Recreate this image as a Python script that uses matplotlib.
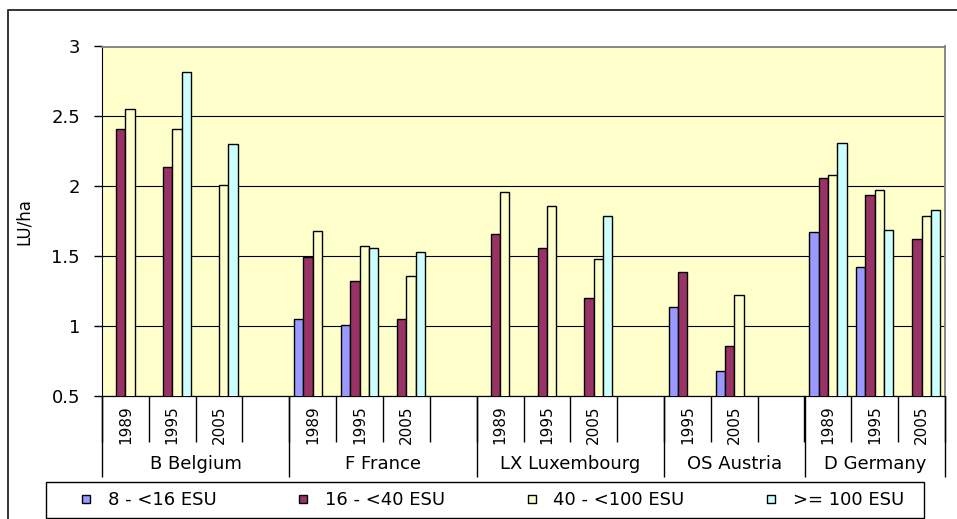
import numpy as np
import matplotlib
matplotlib.use("Agg")
import matplotlib.pyplot as plt
from matplotlib.lines import Line2D
from matplotlib.patches import Rectangle

# one slot per year, blank slot between countries
countries = ["B Belgium", "F France", "LX Luxembourg", "OS Austria", "D Germany"]
country_years = [["1989", "1995", "2005"],
                 ["1989", "1995", "2005"],
                 ["1989", "1995", "2005"],
                 ["1995", "2005"],
                 ["1989", "1995", "2005"]]
series_labels = ["8 - <16 ESU", "16 - <40 ESU", "40 - <100 ESU", ">= 100 ESU"]
series_colors = ["#9999FF", "#993366", "#FFFFCC", "#CCFFFF"]

nan = np.nan
# LU/ha per slot (blank slots included as nan)
esu_8_16 = [nan, nan, nan, nan, 1.05, 1.01, nan, nan, nan, nan, nan, nan,
            1.14, 0.68, nan, 1.67, 1.42, nan]
esu_16_40 = [2.41, 2.14, nan, nan, 1.495, 1.32, 1.05, nan, 1.66, 1.56, 1.20, nan,
             1.39, 0.86, nan, 2.06, 1.94, 1.62]
esu_40_100 = [2.55, 2.41, 2.01, nan, 1.68, 1.57, 1.36, nan, 1.96, 1.86, 1.48, nan,
              nan, 1.22, nan, 2.08, 1.97, 1.79]
esu_100 = [nan, 2.82, 2.30, nan, nan, 1.56, 1.53, nan, nan, nan, 1.79, nan,
           nan, nan, nan, 2.31, 1.69, 1.83]
series = [esu_8_16, esu_16_40, esu_40_100, esu_100]

W, H = 957, 519
fig = plt.figure(figsize=(W / 100, H / 100), dpi=100)
fig.patch.set_facecolor("white")
ax = fig.add_axes([102 / W, 1 - 396 / H, 843 / W, 349.5 / H])
ax.set_facecolor("#FFFFCC")

n_slots = len(esu_8_16)
x = np.arange(n_slots)
bw = 0.2
for i, (vals, col, lab) in enumerate(zip(series, series_colors, series_labels)):
    ax.bar(x + (i - 1.5) * bw, vals, width=bw, color=col, edgecolor="black",
           linewidth=1.0, label=lab, zorder=3)

ax.set_ylim(0.5, 3)
ax.set_xlim(-0.5, n_slots - 0.5)
ax.set_yticks([0.5, 1, 1.5, 2, 2.5, 3], labels=["0.5", "1", "1.5", "2", "2.5", "3"])
ax.tick_params(axis="y", direction="out", length=5.8, width=1, pad=10, labelsize=13)
ax.yaxis.grid(True, color="black", linewidth=0.8, zorder=0)
ax.set_axisbelow(True)
ax.set_ylabel("LU/ha", fontsize=12)
ax.yaxis.set_label_coords(-0.082, 0.5)

for s in ("top", "right"):
    ax.spines[s].set_color("#808080")
    ax.spines[s].set_linewidth(1.3)
ax.spines["left"].set_color("black")
ax.spines["bottom"].set_color("black")

# year labels and slot dividers
year_pos, year_lab, group_edges, group_mid = [], [], [-0.5], []
pos = 0
for ci, yrs in enumerate(country_years):
    start = pos
    for y in yrs:
        year_pos.append(pos)
        year_lab.append(y)
        pos += 1
    if ci < len(country_years) - 1:
        pos += 1
    group_edges.append(pos - 0.5)
    group_mid.append((start - 0.5 + pos - 0.5) / 2)

ax.set_xticks(year_pos, labels=year_lab, rotation=90, fontsize=11)
ax.tick_params(axis="x", length=0, pad=6.5)
ax.set_xticks(np.arange(n_slots + 1) - 0.5, minor=True)
ax.tick_params(axis="x", which="minor", direction="out", length=33, width=1)

sec = ax.secondary_xaxis("bottom")
sec.set_xticks(group_edges, labels=[""] * len(group_edges))
sec.tick_params(direction="out", length=58, width=1)

for mid, name in zip(group_mid, countries):
    ax.text(mid, -0.1946, name, transform=ax.get_xaxis_transform(),
            ha="center", va="center", fontsize=13)

# legend in its own box
handles = [Line2D([], [], marker="s", markersize=6, markerfacecolor=c,
                  markeredgecolor="black", markeredgewidth=1, linestyle="none",
                  label=l) for c, l in zip(series_colors, series_labels)]
fig.legend(handles=handles, loc="center", bbox_to_anchor=(490.5 / W, 1 - 500 / H),
           ncol=4, frameon=False, fontsize=13, handlelength=1.0, handletextpad=0.7,
           columnspacing=4.3)
fig.add_artist(Rectangle((46 / W, 1 - 518 / H), (924 - 46) / W, 36 / H,
                         transform=fig.transFigure, fill=False,
                         edgecolor="black", linewidth=1))

# outer chart frame
fig.add_artist(Line2D([8 / W, 8 / W, 1.0], [0.0, 1 - 10 / H, 1 - 10 / H],
                      transform=fig.transFigure, color="#333333", linewidth=1.4))

fig.savefig("out.png", dpi=100)
